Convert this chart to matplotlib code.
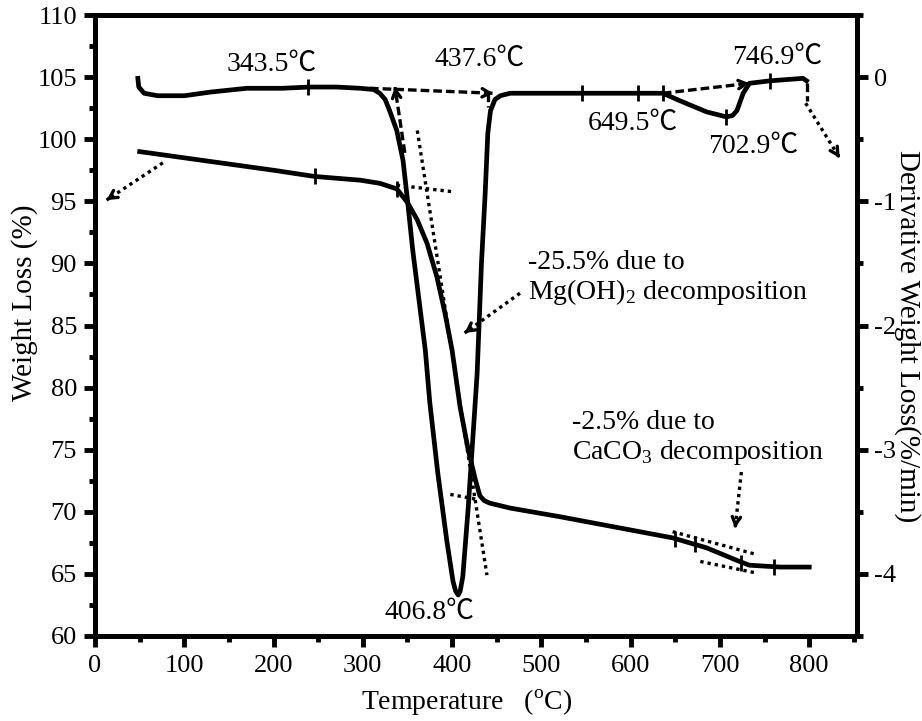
import matplotlib
matplotlib.use('Agg')
import matplotlib.pyplot as plt
from matplotlib.ticker import MultipleLocator

plt.rcParams['font.family'] = ['Liberation Serif', 'Noto Sans CJK SC']
plt.rcParams['mathtext.fontset'] = 'custom'
plt.rcParams['mathtext.rm'] = 'Liberation Serif'
plt.rcParams['axes.unicode_minus'] = False

# TGA curve (weight %, left axis)
tga_T = [50, 100, 150, 200, 246, 297, 319, 338, 350, 361, 372, 383, 392, 400,
         409, 418, 426, 431, 436, 442, 465, 521, 610, 647, 685, 722, 733, 767, 800]
tga_W = [99.0, 98.5, 98.0, 97.5, 97.0, 96.7, 96.45, 96.0, 94.9, 93.5, 91.6, 88.9,
         86.0, 83.0, 78.4, 75.0, 72.6, 71.3, 70.9, 70.7, 70.3, 69.6, 68.4, 67.9,
         67.1, 66.0, 65.7, 65.55, 65.55]

# DTG curve (%/min, right axis)
dtg_T = [48, 49, 55, 70, 100, 130, 170, 210, 240, 270, 297, 312, 319, 325, 330,
         338, 345, 350, 356, 363, 370, 375, 384, 394, 401, 404, 406.8, 409, 412,
         418, 423, 428, 433, 437, 440, 443, 448, 454, 465, 500, 545, 608, 636,
         655, 685, 707, 714, 719, 726, 733, 756, 793, 797]
dtg_D = [-0.01, -0.08, -0.13, -0.15, -0.15, -0.12, -0.09, -0.09, -0.08, -0.08,
         -0.09, -0.10, -0.13, -0.18, -0.27, -0.43, -0.67, -0.99, -1.40, -1.80,
         -2.20, -2.62, -3.19, -3.73, -4.06, -4.14, -4.17, -4.14, -4.02, -3.47,
         -2.93, -2.39, -1.48, -0.94, -0.45, -0.27, -0.18, -0.15, -0.13, -0.13,
         -0.13, -0.13, -0.13, -0.19, -0.28, -0.32, -0.31, -0.27, -0.13, -0.05,
         -0.03, -0.01, -0.03]

# small vertical tick marks sitting on the curves
tga_mark_T = [246, 338, 650, 672, 724, 761]
tga_mark_W = [97.0, 96.0, 67.85, 67.4, 65.9, 65.55]
dtg_mark_T = [239, 545, 608, 636, 707, 756]
dtg_mark_D = [-0.08, -0.13, -0.13, -0.13, -0.32, -0.03]

# tangent construction lines (x0, y0, x1, y1)
tga_dotted = [(338, 96.3, 403, 95.75), (361, 100.7, 439, 64.9),
              (398, 71.4, 428, 71.0), (647, 68.4, 739, 66.6),
              (678, 66.0, 739, 65.1)]
tga_dotted_arrows = [(76, 98.1, 13, 95.1), (476, 87.6, 414, 84.4),
                     (724, 73.2, 717, 68.7)]
dtg_dashed = [(440, -0.13, 440, -0.24), (797, -0.05, 797, -0.19)]
dtg_dashed_arrows = [(308, -0.09, 446, -0.13), (347, -0.61, 336, -0.08),
                     (636, -0.13, 733, -0.05)]
dtg_dotted_arrows = [(796, -0.21, 834, -0.65)]

# temperature labels (text, T, W on left axis)
peak_labels = [('343.5℃', 198, 106.0), ('437.6℃', 431, 106.4),
               ('746.9℃', 764, 106.6), ('649.5℃', 602, 101.3),
               ('702.9℃', 737, 99.4), ('406.8℃', 375, 61.9)]

fig = plt.figure(figsize=(9.22, 7.21), dpi=100)
ax = fig.add_axes((95/922, 1-636/721, 762/922, 621/721))
ax2 = ax.twinx()

LW_SPINE = 3.5
for a in (ax, ax2):
    for s in a.spines.values():
        s.set_linewidth(LW_SPINE)

ax.plot(tga_T, tga_W, color='k', lw=3.4, solid_joinstyle='round')
ax2.plot(dtg_T, dtg_D, color='k', lw=3.4, solid_joinstyle='round')
ax.plot(tga_mark_T, tga_mark_W, ls='none', marker='|', ms=11, mew=2, color='k')
ax2.plot(dtg_mark_T, dtg_mark_D, ls='none', marker='|', ms=11, mew=2, color='k')

DOT = (0, (1.0, 1.2))
DASH = (0, (2.6, 1.2))


def arrow(a, x0, y0, x1, y1, ls):
    a.plot([x0, x1], [y0, y1], color='k', lw=2.4, ls=ls, dash_capstyle='butt')
    xm = x1 - 0.04 * (x1 - x0)
    ym = y1 - 0.04 * (y1 - y0)
    a.annotate('', xy=(x1, y1), xytext=(xm, ym),
               arrowprops=dict(arrowstyle='->,head_length=0.55,head_width=0.3',
                               lw=2.4, color='k', shrinkA=0, shrinkB=0))


for x0, y0, x1, y1 in tga_dotted:
    ax.plot([x0, x1], [y0, y1], color='k', lw=2.4, ls=DOT, dash_capstyle='butt')
for x0, y0, x1, y1 in tga_dotted_arrows:
    arrow(ax, x0, y0, x1, y1, DOT)
for x0, y0, x1, y1 in dtg_dashed:
    ax2.plot([x0, x1], [y0, y1], color='k', lw=2.4, ls=DASH, dash_capstyle='butt')
for x0, y0, x1, y1 in dtg_dashed_arrows:
    arrow(ax2, x0, y0, x1, y1, DASH)
for x0, y0, x1, y1 in dtg_dotted_arrows:
    arrow(ax2, x0, y0, x1, y1, DOT)

for txt, x, y in peak_labels:
    ax.text(x, y, txt, fontsize=20, ha='center', va='center')

ax.text(485, 88.8, '-25.5% due to\nMg(OH)$_2$ decomposition', fontsize=20,
        ha='left', va='center', linespacing=1.1)
ax.text(534, 75.9, '-2.5% due to\nCaCO$_3$ decomposition', fontsize=20,
        ha='left', va='center', linespacing=1.1)

ax.set_xlim(0, 853.5)
ax.set_ylim(60, 110)
ax2.set_ylim(-4.5, 0.5)

ax.xaxis.set_major_locator(MultipleLocator(100))
ax.xaxis.set_minor_locator(MultipleLocator(50))
ax.yaxis.set_major_locator(MultipleLocator(5))
ax.yaxis.set_minor_locator(MultipleLocator(2.5))
ax2.yaxis.set_major_locator(MultipleLocator(1))
ax2.yaxis.set_minor_locator(MultipleLocator(0.5))

ax.tick_params(which='both', direction='out', width=3.5, labelsize=19,
               top=False, right=False)
ax.tick_params(which='major', length=8)
ax.tick_params(which='minor', length=4)
ax.tick_params(axis='x', pad=6)
ax.tick_params(axis='y', pad=5)
ax2.tick_params(which='both', direction='out', width=3.5, labelsize=19,
                left=False, right=True, pad=4)
ax2.tick_params(which='major', length=8)
ax2.tick_params(which='minor', length=4)

fig.text(25/922, 1-303/721, 'Weight Loss (%)', rotation=90, fontsize=21,
         ha='center', va='center')
fig.text(907/922, 1-336/721, 'Derivative Weight Loss(%/min)', rotation=270,
         fontsize=21, ha='center', va='center')
fig.text(467/922, 1-703/721, r'Temperature   ($^{\rm o}$C)', fontsize=20,
         ha='center', va='center')

fig.savefig('out.png', dpi=100)
